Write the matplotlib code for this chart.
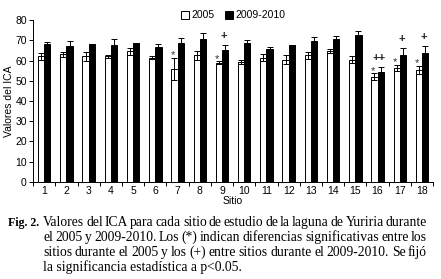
import numpy as np
import matplotlib
matplotlib.use("Agg")
import matplotlib.pyplot as plt
from matplotlib.patches import Patch

# ICA values per site
sitios = list(range(1, 19))
ica_2005 = [62, 63, 62, 62, 64.5, 61.5, 56, 62.5, 59, 59.5, 61.5, 60.5, 62.5, 64.5, 60.5, 52, 56.5, 55.5]
err_2005 = [1.5, 1.3, 2.0, 0.7, 1.8, 0.8, 5.5, 2.0, 0.8, 1.0, 1.6, 2.0, 1.6, 1.0, 1.5, 1.6, 1.5, 2.0]
ica_0910 = [68, 67, 68, 67.5, 68.5, 66.5, 68.5, 70.5, 65, 68.5, 65.5, 67.5, 69.5, 70.5, 72.5, 54.5, 62.5, 63.5]
err_0910 = [1.0, 2.5, 0.3, 3.0, 0.3, 1.5, 2.5, 3.2, 2.5, 1.5, 1.0, 0.3, 2.0, 1.6, 2.2, 2.5, 3.5, 3.5]
sig_2005 = [7, 9, 16, 17, 18]          # (*)
sig_0910 = {9: "+", 16: "++", 17: "+", 18: "+"}   # (+)

caption = ["Valores del ICA para cada sitio de estudio de la laguna de Yuriria durante",
           "el 2005 y 2009-2010. Los (*) indican diferencias significativas entre los",
           "sitios durante el 2005 y los (+) entre sitios durante el 2009-2010. Se fijó",
           "la significancia estadística a p<0.05."]

plt.rcParams['font.family'] = ['Liberation Sans', 'DejaVu Sans']

fig = plt.figure(figsize=(4.41, 2.79), dpi=100)
ax = fig.add_axes([0.075, 0.348, 0.907, 0.58])

x = np.array(sitios)
w = 0.28
ax.bar(x - w/2, ica_2005, w, color='white', edgecolor='black', linewidth=0.7,
       yerr=err_2005, error_kw=dict(ecolor='black', elinewidth=0.7, capsize=2, capthick=0.7))
ax.bar(x + w/2, ica_0910, w, color='black', edgecolor='black', linewidth=0.7,
       yerr=err_0910, error_kw=dict(ecolor='black', elinewidth=0.7, capsize=2, capthick=0.7))

for s in sig_2005:
    i = s - 1
    ax.text(s - w/2 - 0.08, ica_2005[i] + err_2005[i] + 1.0, "*", ha='center', va='center',
            fontsize=8, color='#333333')
for s, m in sig_0910.items():
    i = s - 1
    ax.text(s + w/2 - 0.05, ica_0910[i] + err_0910[i] + 4.5, m, ha='center', va='center',
            fontsize=8, fontweight='bold', color='#222222')

ax.set_xlim(0.5, 18.5)
ax.set_ylim(0, 80)
ax.set_yticks(range(0, 81, 10))
ax.set_xticks(x)
ax.set_xticklabels([str(s) for s in sitios])
ax.set_xticks(np.arange(0.5, 18.6, 1), minor=True)
ax.tick_params(axis='x', which='major', length=0, pad=3, labelsize=7.5)
ax.tick_params(axis='x', which='minor', length=3, width=0.7, direction='out')
ax.tick_params(axis='y', length=3, width=0.7, pad=1.5, labelsize=7.5)
for sp in ['top', 'right']:
    ax.spines[sp].set_visible(False)
ax.spines['left'].set_linewidth(0.7)
ax.spines['bottom'].set_linewidth(0.7)
ax.set_xlabel("Sitio", fontsize=7.5, labelpad=0)
ax.set_ylabel("Valores del ICA", fontsize=7.5, labelpad=1)

handles = [Patch(facecolor='white', edgecolor='black', linewidth=0.7, label='2005'),
           Patch(facecolor='black', edgecolor='black', linewidth=0.7, label='2009-2010')]
fig.legend(handles=handles, loc='center left', bbox_to_anchor=(0.40, 0.945), ncol=2,
           frameon=False, fontsize=7.5, handlelength=0.8, handleheight=0.8,
           handletextpad=0.2, columnspacing=1.0, borderaxespad=0)

# caption, justified word by word
cap = dict(family=['Liberation Serif', 'DejaVu Serif'], va='baseline')
W, H = 441.0, 279.0
x0, x1 = 43.0, 427.0
fig.text(8/W, 1 - 226/H, "Fig. 2.", fontweight='bold', fontsize=8.6, **cap)
renderer = fig.canvas.get_renderer()
for k, ln in enumerate(caption):
    yb = 1 - (226 + 14.9*k)/H
    words = ln.split(" ")
    if k == len(caption) - 1:
        fig.text(x0/W, yb, ln, fontsize=9.8, **cap)
        continue
    ts = [fig.text(0, yb, wd, fontsize=9.8, **cap) for wd in words]
    widths = [t.get_window_extent(renderer).width for t in ts]
    gap = (x1 - x0 - sum(widths)) / (len(words) - 1)
    pos = x0
    for t, wd in zip(ts, widths):
        t.set_x(pos/W)
        pos += wd + gap

fig.savefig("out.png", dpi=100)
